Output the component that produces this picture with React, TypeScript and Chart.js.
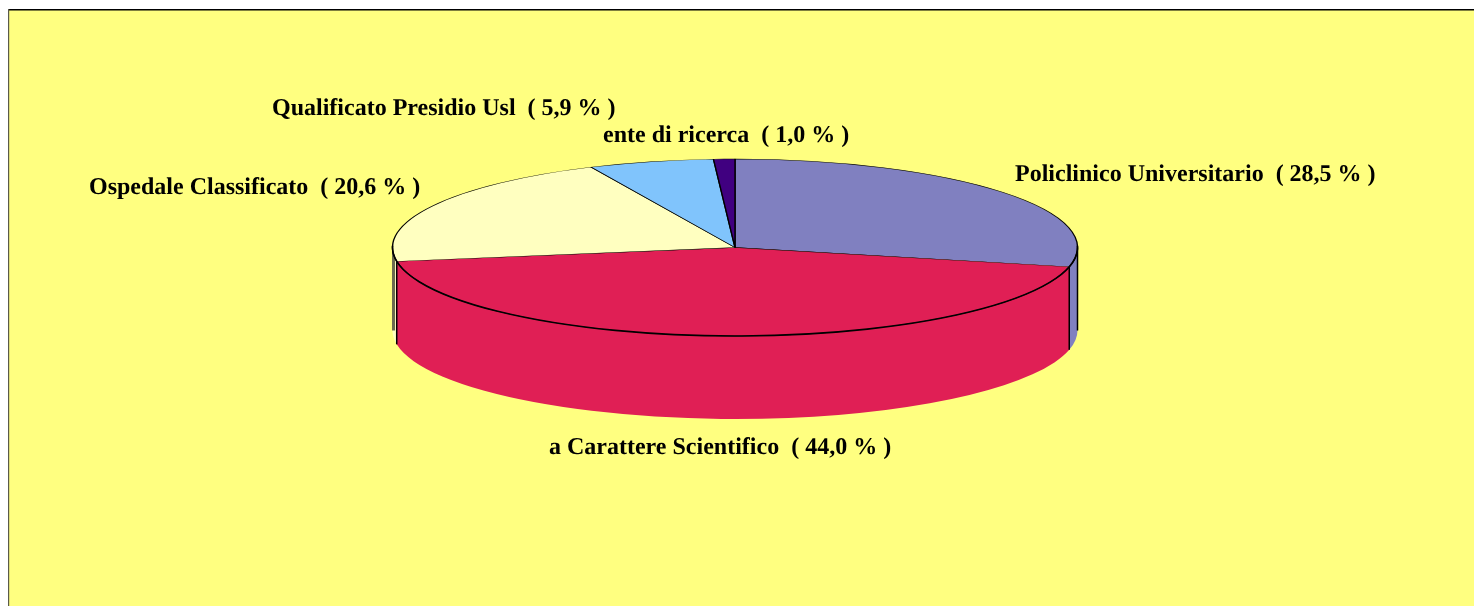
import React, { useEffect, useRef } from "react";
import { Chart, registerables } from "chart.js";

Chart.register(...registerables);

const categories = [
  "Policlinico Universitario",
  "a Carattere Scientifico",
  "Ospedale Classificato",
  "Qualificato Presidio Usl",
  "ente di ricerca",
];
const shares = [28.5, 44.0, 20.6, 5.9, 1.0];
const sliceColors = ["#8080C0", "#E01F55", "#FFFFC0", "#80C4FC", "#400080"];
const labelAnchors = [
  { x: 1015, y: 181 },
  { x: 549, y: 454 },
  { x: 89, y: 194 },
  { x: 272, y: 115 },
  { x: 603, y: 142 },
];

const SQUASH = 88.5 / 342.5;
const DEPTH = 83;

const pie3d = {
  id: "pie3d",
  beforeDraw(chart: any) {
    const { ctx, width, height } = chart;
    ctx.save();
    ctx.fillStyle = "#FFFFFF";
    ctx.fillRect(0, 0, width, height);
    ctx.fillStyle = "#FFFF80";
    ctx.fillRect(8, 10, width - 8, height - 10);
    ctx.fillStyle = "#000000";
    ctx.fillRect(8, 9, width - 8, 1.5);
    ctx.fillStyle = "#5A5A4A";
    ctx.fillRect(8, 9, 1.2, height - 9);
    ctx.restore();
  },
  beforeDatasetsDraw(chart: any) {
    const { ctx } = chart;
    const arcs = chart.getDatasetMeta(0).data;
    const first = arcs[0];
    const cx = first.x;
    const cy = first.y;
    const rx = first.outerRadius;
    const ry = rx * SQUASH;
    ctx.save();
    arcs.forEach((arc: any, i: number) => {
      const a = Math.max(arc.startAngle, 0);
      const b = Math.min(arc.endAngle, Math.PI);
      if (b <= a) return;
      ctx.beginPath();
      ctx.ellipse(cx, cy, rx, ry, 0, a, b);
      ctx.ellipse(cx, cy + DEPTH, rx, ry, 0, b, a, true);
      ctx.closePath();
      ctx.fillStyle = sliceColors[i];
      ctx.fill();
      if (a > 0) {
        const x = cx + rx * Math.cos(a);
        const y = cy + ry * Math.sin(a);
        ctx.beginPath();
        ctx.moveTo(x, y);
        ctx.lineTo(x, y + DEPTH);
        ctx.strokeStyle = "#000000";
        ctx.lineWidth = 1.5;
        ctx.stroke();
      }
    });
    ctx.strokeStyle = "#000000";
    ctx.lineWidth = 1.5;
    ctx.beginPath();
    ctx.moveTo(cx + rx, cy);
    ctx.lineTo(cx + rx, cy + DEPTH);
    ctx.stroke();
    ctx.strokeStyle = "#6B6B50";
    ctx.lineWidth = 3;
    ctx.beginPath();
    ctx.moveTo(cx - rx + 1, cy);
    ctx.lineTo(cx - rx + 1, cy + DEPTH);
    ctx.stroke();
    ctx.restore();
    ctx.save();
    ctx.translate(0, cy);
    ctx.scale(1, SQUASH);
    ctx.translate(0, -cy);
  },
  afterDatasetsDraw(chart: any) {
    const { ctx } = chart;
    ctx.restore();
    const arcs = chart.getDatasetMeta(0).data;
    const first = arcs[0];
    ctx.save();
    ctx.strokeStyle = "#000000";
    ctx.lineWidth = 1.6;
    ctx.beginPath();
    ctx.ellipse(first.x, first.y, first.outerRadius, first.outerRadius * SQUASH, 0, -0.02, Math.PI + 0.02);
    ctx.stroke();
    ctx.restore();
  },
  afterDraw(chart: any) {
    const { ctx } = chart;
    ctx.save();
    ctx.fillStyle = "#000000";
    ctx.font = 'bold 24px "Liberation Serif"';
    ctx.textBaseline = "alphabetic";
    ctx.textRendering = "geometricPrecision";
    categories.forEach((name, i) => {
      const text = `${name}  ( ${shares[i].toFixed(1).replace(".", ",")} % )`;
      ctx.fillText(text, labelAnchors[i].x, labelAnchors[i].y);
    });
    ctx.restore();
  },
};

export default function App() {
  const ref = useRef<HTMLCanvasElement | null>(null);
  useEffect(() => {
    const chart = new Chart(ref.current as HTMLCanvasElement, {
      type: "pie",
      data: {
        labels: categories,
        datasets: [
          {
            data: shares,
            backgroundColor: sliceColors,
            borderColor: "#000000",
            borderWidth: 1.4,
            clip: false,
          } as any,
        ],
      },
      options: {
        animation: false,
        responsive: false,
        radius: 342.5,
        layout: { padding: { top: 0, left: 0, right: 4, bottom: 111 } },
        plugins: { legend: { display: false }, tooltip: { enabled: false } },
      } as any,
      plugins: [pie3d],
    });
    return () => chart.destroy();
  }, []);
  return (
    <div style={{ position: "fixed", left: 0, top: 0, width: 1474, height: 606, overflow: "hidden" }}>
      <canvas ref={ref} width={1474} height={606} style={{ display: "block" }} />
    </div>
  );
}
